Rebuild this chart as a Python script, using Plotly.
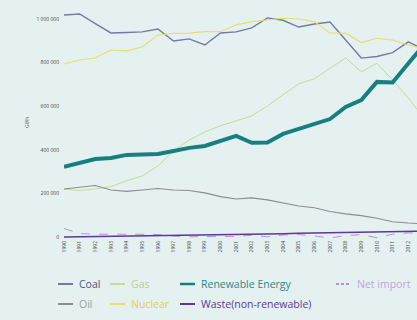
import plotly.graph_objects as go

# Energy supply by source, 1990-2013 (GWh)
years = list(range(1990, 2014))

coal = [1017000, 1022000, 978000, 935000, 937000, 940000, 953000, 898000, 908000, 880000,
        935000, 940000, 958000, 1004000, 993000, 962000, 976000, 985000, 903000, 820000,
        827000, 845000, 894000, 860000]
gas = [220000, 214000, 221000, 232000, 258000, 281000, 326000, 395000, 445000, 482000,
       510000, 533000, 555000, 601000, 651000, 702000, 725000, 775000, 821000, 757000,
       796000, 720000, 637000, 546000]
renewable = [322000, 340000, 358000, 363000, 377000, 379000, 381000, 395000, 409000, 418000,
             441000, 464000, 432000, 434000, 473000, 496000, 516000, 541000, 596000, 628000,
             711000, 708000, 795000, 880000]
net_import = [40000, 17000, 14000, 15000, 13000, 14000, 12000, 5000, 2000, 3000,
              6000, 4000, 9000, 2000, 10000, 12000, 6000, -3000, 8000, 12000,
              -2000, 14000, 20000, 18000]
oil = [221000, 230000, 237000, 216000, 210000, 216000, 223000, 216000, 214000, 203000,
       186000, 175000, 180000, 171000, 157000, 143000, 135000, 118000, 107000, 99000,
       87000, 71000, 65000, 61000]
nuclear = [793000, 811000, 820000, 857000, 853000, 871000, 926000, 933000, 934000, 941000,
           941000, 972000, 987000, 995000, 1002000, 999000, 987000, 935000, 934000, 891000,
           911000, 903000, 880000, 862000]
waste = [1000, 2000, 3000, 3500, 4000, 5000, 5500, 6000, 7000, 8000,
         9000, 10000, 12000, 14000, 16000, 18000, 19000, 20000, 21000, 22000,
         24000, 26000, 27000, 28000]

y_tick_vals = [0, 200000, 400000, 600000, 800000, 1000000]
y_tick_text = ["0", "200 000", "400 000", "600 000", "800 000", "1 000 000"]
unit_label = "GWh"

series = [
    # name, values, line colour, text colour, width, dash, legend column, legend row
    ("Coal", coal, "#717ba6", "#4b5583", 1.4, "solid", 0, 0),
    ("Gas", gas, "#c2de94", "#b4d68a", 1.0, "solid", 1, 0),
    ("Renewable Energy", renewable, "#17807f", "#2b8787", 4.0, "solid", 2, 0),
    ("Net import", net_import, "#b992d6", "#c3a2dc", 1.0, "dash", 3, 0),
    ("Oil", oil, "#8c8c8c", "#a0a0a0", 1.1, "solid", 0, 1),
    ("Nuclear", nuclear, "#e6df6a", "#dbd24a", 1.1, "solid", 1, 1),
    ("Waste(non-renewable)", waste, "#5a3a92", "#5a3a92", 1.6, "solid", 2, 1),
]

W, H = 417, 320
ML, MR, MT, MB = 64, 0, 8, 81
PW, PH = W - ML - MR, H - MT - MB


def px_x(px):
    return (px - ML) / PW


def px_y(py):
    return (H - MB - py) / PH


fig = go.Figure()
for name, vals, col, tcol, wd, dash, c, r in series:
    fig.add_trace(go.Scatter(
        x=years, y=vals, mode="lines", name=name,
        line=dict(color=col, width=wd, dash=dash),
        showlegend=False, hoverinfo="skip",
    ))

# hand-built legend: two rows, four uneven columns
col_line_x = [58, 110, 180, 336]
row_y = [284, 304]
shapes = []
annotations = []
for name, vals, col, tcol, wd, dash, c, r in series:
    x0 = col_line_x[c]
    y = row_y[r]
    shapes.append(dict(
        type="line", xref="paper", yref="paper",
        x0=px_x(x0), x1=px_x(x0 + 15), y0=px_y(y), y1=px_y(y),
        line=dict(color=col, width=2 if wd < 3 else 2.5,
                  dash="3px,2px" if dash == "dash" else "solid"),
    ))
    annotations.append(dict(
        text=name, xref="paper", yref="paper",
        x=px_x(x0 + 19), y=px_y(y), xanchor="left", yanchor="middle",
        showarrow=False, font=dict(family="Open Sans", size=10.5, color=tcol),
    ))

annotations.append(dict(
    text=unit_label, xref="paper", yref="paper",
    x=px_x(27), y=px_y(123), xanchor="center", yanchor="middle",
    textangle=-90, showarrow=False,
    font=dict(family="Open Sans", size=5, color="#555555"),
))

fig.update_layout(
    width=W, height=H,
    margin=dict(l=ML, r=MR, t=MT, b=MB, pad=0),
    paper_bgcolor="#e5f1f1",
    plot_bgcolor="#e5f1f1",
    shapes=shapes,
    annotations=annotations,
    showlegend=False,
)
fig.update_xaxes(
    range=[1990, 2012.56],
    tickmode="array", tickvals=years, ticktext=[str(y) for y in years],
    tickangle=-90, tickfont=dict(family="Open Sans", size=5, color="#444444"),
    showgrid=False, zeroline=False, showline=False, ticks="",
)
fig.update_yaxes(
    range=[-8000, 1049200],
    tickmode="array", tickvals=y_tick_vals, ticktext=y_tick_text,
    tickfont=dict(family="Open Sans", size=5, color="#444444"),
    showgrid=False, zeroline=False, showline=False, ticks="",
    ticklabelstandoff=4,
)

fig.write_html("out.html")
